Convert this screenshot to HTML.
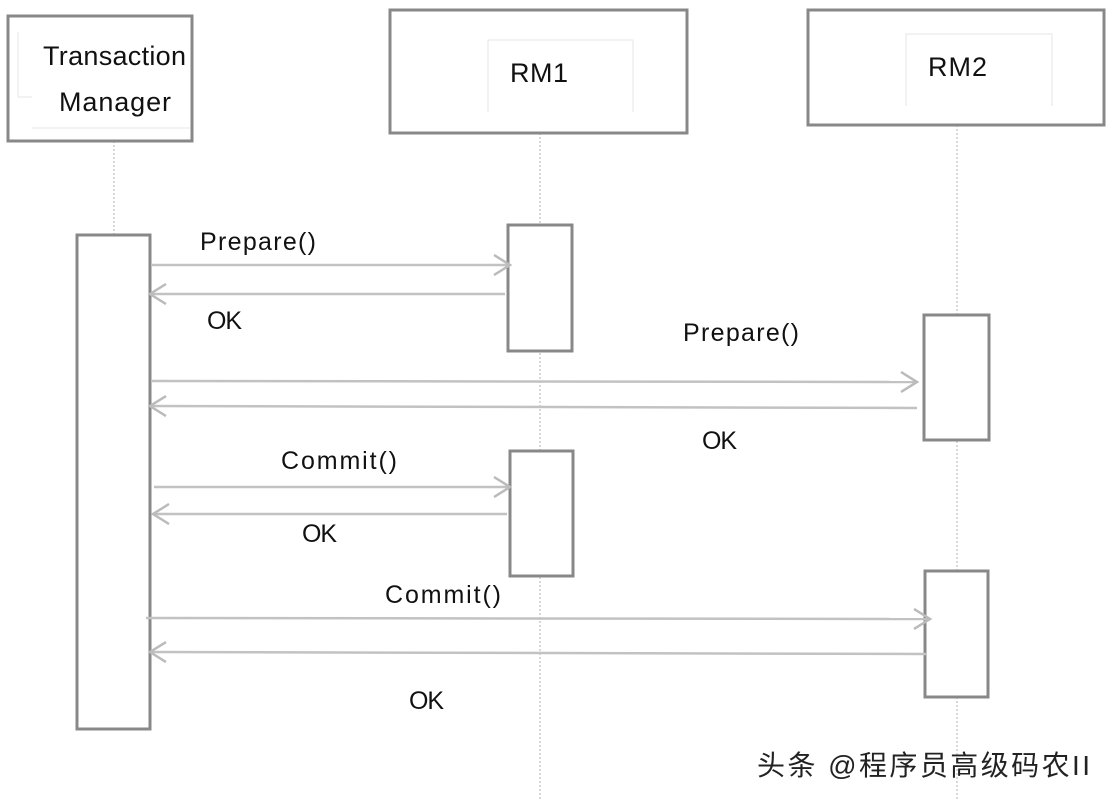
<!DOCTYPE html>
<html><head><meta charset="utf-8"><style>
html,body{margin:0;padding:0;background:#fff;}
svg text{font-family:"Liberation Sans","Noto Sans CJK SC",sans-serif;fill:#111;}
</style></head><body>
<svg width="1111" height="799" viewBox="0 0 1111 799" xmlns="http://www.w3.org/2000/svg">
<defs>
<marker id="ar" markerWidth="20" markerHeight="22" refX="17" refY="11" orient="auto" markerUnits="userSpaceOnUse">
<path d="M1,1 L17,11 L1,21" fill="none" stroke="#bbb" stroke-width="2.5"/>
</marker>
</defs>
<g stroke="#ccc" stroke-width="1.5" stroke-dasharray="2,2" fill="none">
<line x1="114" y1="141" x2="114" y2="235"/>
<line x1="540" y1="133" x2="540" y2="799"/>
<line x1="957" y1="125" x2="957" y2="799"/>
</g>
<g fill="#fff" stroke="#888" stroke-width="3">
<rect x="8" y="16" width="184" height="125"/>
<rect x="390" y="10" width="297" height="123"/>
<rect x="808" y="10" width="296" height="115"/>
<rect x="77" y="235" width="73" height="494"/>
<rect x="508" y="225" width="64" height="126"/>
<rect x="510" y="451" width="63" height="125"/>
<rect x="924" y="315" width="65" height="125"/>
<rect x="925" y="571" width="63" height="126"/>
</g>
<g stroke="#e6e6e6" stroke-width="1" fill="none">
<path d="M18,32 V97 H32"/><line x1="32" y1="128" x2="190" y2="128"/>
<path d="M488,112 V40 H633 V112"/>
<path d="M906,106 V34 H1052 V106"/>
</g>
<g stroke="#c2c2c2" stroke-width="2.5" fill="none">
<line x1="152" y1="265" x2="510" y2="265" marker-end="url(#ar)"/>
<line x1="505" y1="294" x2="150" y2="294" marker-end="url(#ar)"/>
<line x1="152" y1="381" x2="917" y2="382" marker-end="url(#ar)"/>
<line x1="917" y1="408" x2="150" y2="406" marker-end="url(#ar)"/>
<line x1="154" y1="487" x2="510" y2="487" marker-end="url(#ar)"/>
<line x1="507" y1="514" x2="153" y2="514" marker-end="url(#ar)"/>
<line x1="146" y1="618" x2="930" y2="619" marker-end="url(#ar)"/>
<line x1="926" y1="654" x2="150" y2="652" marker-end="url(#ar)"/>
</g>
<g font-size="27">
<text x="43" y="65" textLength="143">Transaction</text>
<text x="59" y="111" textLength="112">Manager</text>
<text x="510" y="82" textLength="58">RM1</text>
<text x="928" y="76" textLength="59">RM2</text>
</g>
<g font-size="25">
<text x="200" y="250" textLength="116">Prepare()</text>
<text x="207" y="329" textLength="35">OK</text>
<text x="683" y="341" textLength="116">Prepare()</text>
<text x="702" y="449" textLength="35">OK</text>
<text x="281" y="469" textLength="116">Commit()</text>
<text x="302" y="542" textLength="35">OK</text>
<text x="385" y="603" textLength="116">Commit()</text>
<text x="409" y="709" textLength="35">OK</text>
</g>
<text x="757" y="775" font-size="28" textLength="333" style="fill:#222">头条 @程序员高级码农II</text>
</svg>
</body></html>
